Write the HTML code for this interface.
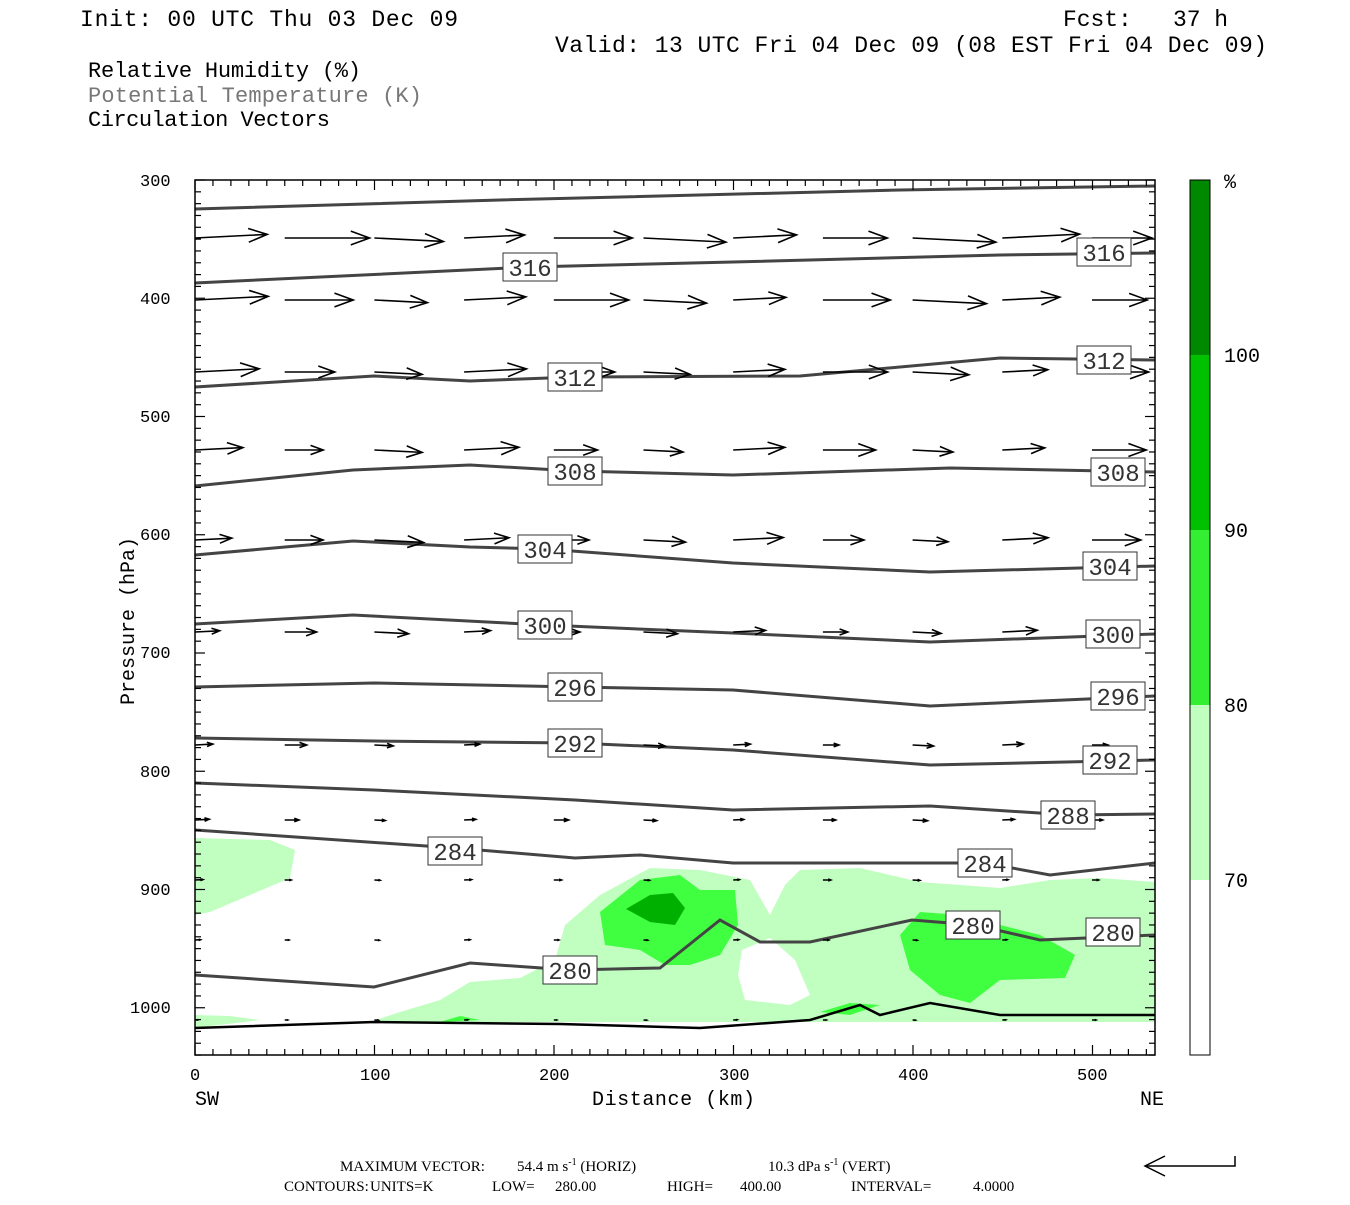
<!DOCTYPE html>
<html><head><meta charset="utf-8"><style>
body{margin:0;background:#fff;width:1350px;height:1200px;overflow:hidden}
svg text{font-family:"Liberation Mono",monospace;fill:#000}
</style></head><body>
<svg id="s" width="1350" height="1200" xmlns="http://www.w3.org/2000/svg">
<text x="80" y="26" font-size="23" textLength="378">Init: 00 UTC Thu 03 Dec 09</text>
<text x="1063" y="26" font-size="23" textLength="165" style="white-space:pre">Fcst:   37 h</text>
<text x="555" y="52" font-size="23" textLength="712">Valid: 13 UTC Fri 04 Dec 09 (08 EST Fri 04 Dec 09)</text>
<text x="88" y="77" font-size="22" textLength="273">Relative Humidity (%)</text>
<text x="88" y="102" font-size="22" style="fill:#777" textLength="334">Potential Temperature (K)</text>
<text x="88" y="126" font-size="22" textLength="242">Circulation Vectors</text>
<g id="shade">
<path d="M195,838 L270,840 L295,850 L290,878 L250,895 L210,912 L195,915Z" fill="#c0ffc0"/>
<path d="M370,1022 L400,1012 L440,1000 L470,982 L520,978 L555,960 L565,925 L600,895 L650,868 L700,870 L750,880 L770,915 L785,885 L800,870 L860,868 L920,882 L1000,888 L1050,880 L1100,878 L1155,882 L1155,1022Z" fill="#c0ffc0"/>
<path d="M195,1015 L230,1016 L260,1020 L195,1028Z" fill="#c0ffc0"/>
<path d="M742,950 L770,938 L795,960 L810,995 L790,1005 L745,1000 L738,975Z" fill="#fff"/>
<path d="M600,912 L640,880 L680,875 L700,890 L735,890 L738,925 L720,955 L690,965 L665,965 L640,950 L605,945Z" fill="#40ff40"/>
<path d="M900,935 L920,912 L960,915 L1000,925 L1040,935 L1075,955 L1065,978 L1000,980 L970,1003 L940,995 L910,970Z" fill="#40ff40"/>
<path d="M820,1012 L850,1003 L880,1005 L850,1015Z" fill="#40ff40"/>
<path d="M440,1022 L460,1016 L480,1020Z" fill="#40ff40"/>
<path d="M626,909 L650,895 L673,893 L685,908 L675,925 L650,922Z" fill="#00b000"/>
</g>
<g id="cont" fill="none" stroke="#444" stroke-width="3"></g>
<g id="arr" fill="none" stroke="#000" stroke-width="2"></g>
<g id="lab"></g>
<rect x="195" y="180" width="960" height="875" fill="none" stroke="#000" stroke-width="1.5"/>
<g id="ticks" stroke="#000" stroke-width="1.2"></g>
<g font-size="17">
<text x="140" y="186">300</text><text x="140" y="304">400</text><text x="140" y="422">500</text><text x="140" y="540">600</text><text x="140" y="658">700</text><text x="140" y="777">800</text><text x="140" y="895">900</text><text x="130" y="1013">1000</text>
<text x="190" y="1080">0</text><text x="360" y="1080">100</text><text x="539" y="1080">200</text><text x="719" y="1080">300</text><text x="898" y="1080">400</text><text x="1077" y="1080">500</text>
</g>
<text x="195" y="1105" font-size="20">SW</text><text x="1140" y="1105" font-size="20">NE</text>
<text x="592" y="1105" font-size="20" textLength="163">Distance (km)</text>
<text transform="translate(134,705) rotate(-90)" font-size="20">Pressure (hPa)</text>
<rect x="1190" y="180" width="20" height="175" fill="#008800"/>
<rect x="1190" y="355" width="20" height="175" fill="#00c000"/>
<rect x="1190" y="530" width="20" height="175" fill="#33ee33"/>
<rect x="1190" y="705" width="20" height="175" fill="#c0ffc0"/>
<rect x="1190" y="880" width="20" height="175" fill="#fff"/>
<rect x="1190" y="180" width="20" height="875" fill="none" stroke="#000"/>
<g font-size="20"><text x="1224" y="188">%</text><text x="1224" y="362">100</text><text x="1224" y="537">90</text><text x="1224" y="712">80</text><text x="1224" y="887">70</text></g>
<g font-size="15" style="font-family:'Liberation Serif',serif">
<text x="340" y="1171" style="font-family:'Liberation Serif',serif">MAXIMUM VECTOR:</text>
<text x="517" y="1171" style="font-family:'Liberation Serif',serif">54.4 m s<tspan dy="-6" font-size="10">-1</tspan><tspan dy="6"> (HORIZ)</tspan></text>
<text x="768" y="1171" style="font-family:'Liberation Serif',serif">10.3 dPa s<tspan dy="-6" font-size="10">-1</tspan><tspan dy="6"> (VERT)</tspan></text>
<text x="284" y="1191" style="font-family:'Liberation Serif',serif">CONTOURS:</text>
<text x="370" y="1191" style="font-family:'Liberation Serif',serif">UNITS=K</text>
<text x="492" y="1191" style="font-family:'Liberation Serif',serif">LOW=</text>
<text x="555" y="1191" style="font-family:'Liberation Serif',serif">280.00</text>
<text x="667" y="1191" style="font-family:'Liberation Serif',serif">HIGH=</text>
<text x="740" y="1191" style="font-family:'Liberation Serif',serif">400.00</text>
<text x="851" y="1191" style="font-family:'Liberation Serif',serif">INTERVAL=</text>
<text x="973" y="1191" style="font-family:'Liberation Serif',serif">4.0000</text>
</g>
<g stroke="#000" stroke-width="1.5" fill="none"><path d="M1145,1166 L1235,1166 L1235,1156"/><path d="M1165,1156 L1145,1166 L1165,1176"/></g>
</svg>
<script>
const NS="http://www.w3.org/2000/svg";
function el(p,t,a,txt){const e=document.createElementNS(NS,t);for(const k in a)e.setAttribute(k,a[k]);if(txt)e.textContent=txt;document.getElementById(p).appendChild(e);return e;}
const C=[
[[195,209],[500,200],[900,190],[1155,186]],
[[195,283],[530,267],[733,262],[1000,255],[1155,253]],
[[195,387],[374,376],[470,381],[575,377],[800,376],[1000,358],[1155,360]],
[[195,486],[353,470],[470,465],[575,471],[733,475],[950,468],[1155,472]],
[[195,555],[353,541],[470,547],[545,549],[733,563],[930,572],[1155,566]],
[[195,624],[353,615],[545,625],[733,633],[930,642],[1155,634]],
[[195,687],[374,683],[575,687],[733,690],[930,706],[1155,696]],
[[195,738],[374,741],[575,743],[733,750],[930,765],[1155,760]],
[[195,783],[374,790],[575,800],[733,810],[930,806],[1070,815],[1155,814]],
[[195,830],[455,848],[575,858],[640,855],[733,863],[985,863],[1050,875],[1155,863]],
[[195,975],[374,987],[470,963],[570,970],[660,968],[720,920],[760,942],[810,942],[912,920],[975,925],[1040,940],[1155,935]]];
C.forEach(c=>el("cont","polyline",{points:c.map(p=>p.join(",")).join(" ")}));
el("arr","polyline",{points:"195,1028 374,1022 560,1024 700,1028 810,1020 860,1005 880,1015 930,1003 1000,1015 1155,1015",stroke:"#000","stroke-width":2.5});
const labs=[[530,267,"316"],[1104,252,"316"],[575,377,"312"],[1104,360,"312"],[575,471,"308"],[1118,472,"308"],[545,549,"304"],[1110,566,"304"],[545,625,"300"],[1113,634,"300"],[575,687,"296"],[1118,696,"296"],[575,743,"292"],[1110,760,"292"],[1068,815,"288"],[455,851,"284"],[985,863,"284"],[570,970,"280"],[973,925,"280"],[1113,932,"280"]];
labs.forEach(l=>{el("lab","rect",{x:l[0]-27,y:l[1]-14,width:54,height:28,fill:"#fff",stroke:"#333"});el("lab","text",{x:l[0],y:l[1]+9,"font-size":24,"text-anchor":"middle",style:"fill:#333"},l[2]);});
const rows=[[238,85,0],[300,75,0],[372,65,0],[450,55,0],[540,50,0],[632,35,0],[745,22,0],[820,15,0],[880,8,0],[940,6,0],[1020,4,0]];
rows.forEach((r,i)=>{for(let k=0;k<11;k++){let x=195+k*89.7;let L=r[1]*(0.85+0.15*Math.sin(k*1.7+i));let dy=(k%3-1)*3*(L/60);let x2=x+L,y2=r[0]+dy;if(x2>1158)continue;
let a=Math.atan2(dy,L),h=Math.min(20,L*0.35);
el("arr","path",{d:`M${x},${r[0]} L${x2},${y2} M${x2-h*Math.cos(a-0.35)},${y2-h*Math.sin(a-0.35)} L${x2},${y2} L${x2-h*Math.cos(a+0.35)},${y2-h*Math.sin(a+0.35)}`,"stroke-width":1.6});}});
for(let k=0;k<=53;k++){let x=195+k*17.95;let t=k%10==0?10:6;el("ticks","line",{x1:x,y1:180,x2:x,y2:180+t});el("ticks","line",{x1:x,y1:1055,x2:x,y2:1055-t});}
for(let p=300;p<=1040;p+=10){let y=180+(p-300)*1.1825;let t=p%100==0?10:6;el("ticks","line",{x1:195,y1:y,x2:195+t,y2:y});el("ticks","line",{x1:1155,y1:y,x2:1155-t,y2:y});}
</script>
</body></html>
